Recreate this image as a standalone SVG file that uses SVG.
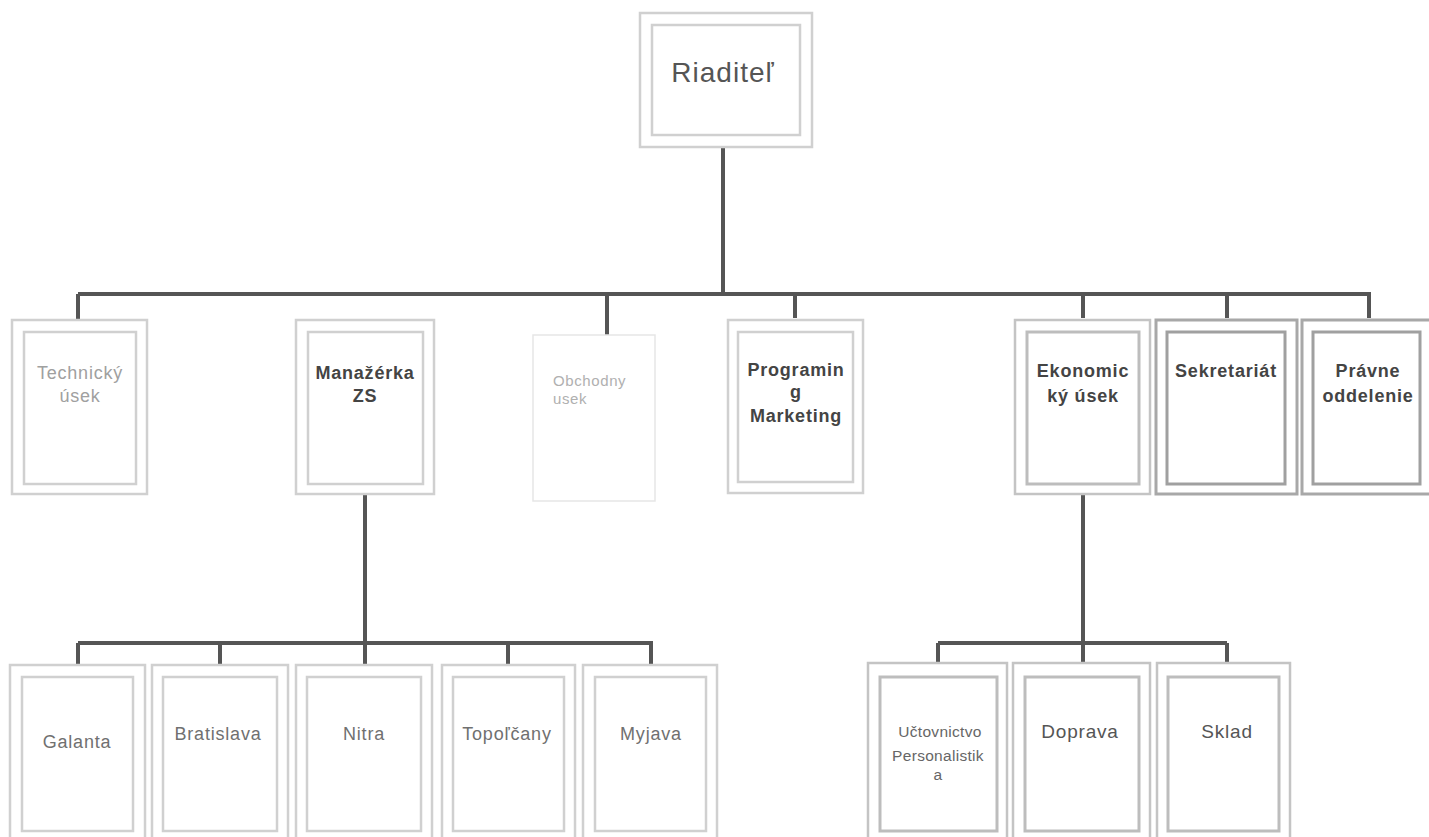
<svg xmlns="http://www.w3.org/2000/svg" width="1429" height="837" viewBox="0 0 1429 837">
<style>
.o{fill:none;stroke:#d0d0d0;stroke-width:2.5}
.i{fill:none;stroke:#d0d0d0;stroke-width:2.5}
.od{fill:none;stroke:#a8a8a8;stroke-width:3}
.id{fill:none;stroke:#a0a0a0;stroke-width:3}
.om{fill:none;stroke:#c4c4c4;stroke-width:2.5}
.im{fill:none;stroke:#bdbdbd;stroke-width:3}
.f{fill:none;stroke:#e6e6e6;stroke-width:1.5}
.c{fill:none;stroke:#555;stroke-width:4}
text{font-family:"Liberation Sans",Arial,sans-serif;text-anchor:middle}
.t1{font-size:18px;letter-spacing:0.8px}
.b{font-weight:bold;fill:#444}
.lt{fill:#a0a0a0}
.t2{font-size:18px;letter-spacing:0.8px;fill:#707070}
.t3{font-size:15.5px;fill:#666;letter-spacing:0.3px}
</style>
<rect width="1429" height="837" fill="#fff"/>
<g id="connectors">
<path class="c" d="M723 147V294M78 294H1371M78 294V320M607 294V335M795 294V318M1083 294V318M1227 294V318M1369 294V318"/>
<path class="c" d="M365 494V665M78 643H653M78 643V665M220 643V665M508 643V665M651 643V665"/>
<path class="c" d="M1083 494V663M938 643H1227M938 643V663M1227 643V663"/>
</g>
<g id="riaditel">
<rect class="o" x="640" y="13" width="172" height="134"/>
<rect class="i" x="652" y="25" width="148" height="110"/>
<text x="723" y="82" style="font-size:28px;letter-spacing:1px;fill:#555">Riaditeľ</text>
</g>
<g id="technicky">
<rect class="o" x="12" y="320" width="135" height="174"/>
<rect class="i" x="24" y="332" width="112" height="152"/>
<text class="t1 lt" x="80" y="379">Technický</text>
<text class="t1 lt" x="80" y="402">úsek</text>
</g>
<g id="manazerka">
<rect class="o" x="296" y="320" width="138" height="174"/>
<rect class="i" x="308" y="332" width="115" height="152"/>
<text class="t1 b" x="365" y="379">Manažérka</text>
<text class="t1 b" x="365" y="402">ZS</text>
</g>
<g id="obchodny">
<rect class="f" x="533" y="335" width="122" height="166"/>
<text x="553" y="386" style="font-size:15px;fill:#b0b0b0;text-anchor:start;letter-spacing:0.6px">Obchodny</text>
<text x="553" y="404" style="font-size:15px;fill:#b0b0b0;text-anchor:start;letter-spacing:0.6px">usek</text>
</g>
<g id="programing">
<rect class="o" x="728" y="320" width="135" height="173"/>
<rect class="i" x="738" y="332" width="115" height="150"/>
<text class="t1 b" x="796" y="376">Programin</text>
<text class="t1 b" x="796" y="398">g</text>
<text class="t1 b" x="796" y="422">Marketing</text>
</g>
<g id="ekonomicky">
<rect class="om" x="1015" y="320" width="135" height="174"/>
<rect class="im" x="1027" y="332" width="112" height="152"/>
<text class="t1 b" x="1083" y="377">Ekonomic</text>
<text class="t1 b" x="1083" y="402">ký úsek</text>
</g>
<g id="sekretariat">
<rect class="od" x="1156" y="320" width="141" height="174"/>
<rect class="id" x="1167" y="332" width="118" height="152"/>
<text class="t1 b" x="1226" y="377">Sekretariát</text>
</g>
<g id="pravne">
<rect class="od" x="1302" y="320" width="132" height="174"/>
<rect class="id" x="1313" y="332" width="107" height="152"/>
<text class="t1 b" x="1368" y="377">Právne</text>
<text class="t1 b" x="1368" y="402">oddelenie</text>
</g>
<g id="galanta">
<rect class="o" x="10" y="665" width="135" height="180"/>
<rect class="i" x="22" y="677" width="111" height="154"/>
<text class="t2" x="77" y="748">Galanta</text>
</g>
<g id="bratislava">
<rect class="o" x="152" y="665" width="136" height="180"/>
<rect class="i" x="163" y="677" width="114" height="154"/>
<text class="t2" x="218" y="740">Bratislava</text>
</g>
<g id="nitra">
<rect class="o" x="296" y="665" width="136" height="180"/>
<rect class="i" x="307" y="677" width="114" height="154"/>
<text class="t2" x="364" y="740">Nitra</text>
</g>
<g id="topolcany">
<rect class="o" x="442" y="665" width="133" height="180"/>
<rect class="i" x="453" y="677" width="111" height="154"/>
<text class="t2" x="507" y="740">Topoľčany</text>
</g>
<g id="myjava">
<rect class="o" x="583" y="665" width="134" height="180"/>
<rect class="i" x="595" y="677" width="111" height="154"/>
<text class="t2" x="651" y="740">Myjava</text>
</g>
<g id="uctovnictvo">
<rect class="om" x="868" y="663" width="139" height="182"/>
<rect class="im" x="880" y="677" width="117" height="154"/>
<text class="t3" x="940" y="737">Učtovnictvo</text>
<text class="t3" x="938" y="761">Personalistik</text>
<text class="t3" x="938" y="780">a</text>
</g>
<g id="doprava">
<rect class="om" x="1013" y="663" width="137" height="182"/>
<rect class="im" x="1025" y="677" width="114" height="154"/>
<text x="1080" y="738" style="font-size:19px;fill:#555;letter-spacing:0.8px">Doprava</text>
</g>
<g id="sklad">
<rect class="om" x="1157" y="663" width="133" height="182"/>
<rect class="im" x="1168" y="677" width="111" height="154"/>
<text x="1227" y="738" style="font-size:19px;fill:#555;letter-spacing:0.8px">Sklad</text>
</g>
</svg>
